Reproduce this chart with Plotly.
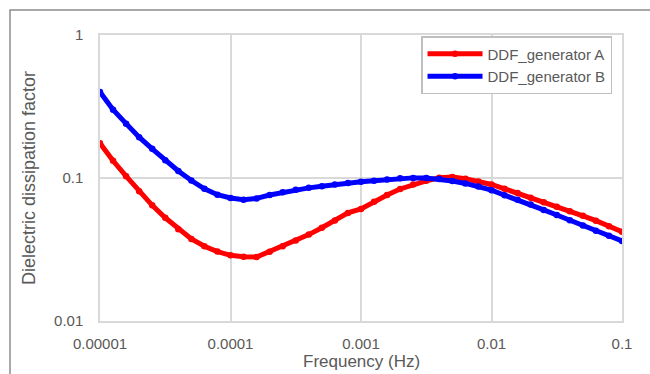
import plotly.graph_objects as go

# Frequencies (Hz), log-spaced every 0.1 decade from 1e-5 to 1e-1
log_freq = [-5.0, -4.9, -4.8, -4.7, -4.6, -4.5, -4.4, -4.3, -4.2, -4.1,
            -4.0, -3.9, -3.8, -3.7, -3.6, -3.5, -3.4, -3.3, -3.2, -3.1,
            -3.0, -2.9, -2.8, -2.7, -2.6, -2.5, -2.4, -2.3, -2.2, -2.1,
            -2.0, -1.9, -1.8, -1.7, -1.6, -1.5, -1.4, -1.3, -1.2, -1.1, -1.0]
frequency = [10 ** v for v in log_freq]

ddf_a = [0.175, 0.132, 0.103, 0.0807, 0.0644, 0.0527, 0.0439, 0.0375, 0.0333, 0.0306,
         0.0288, 0.0281, 0.0280, 0.0305, 0.0333, 0.0365, 0.0402, 0.0449, 0.0505, 0.0570,
         0.0607, 0.0682, 0.0760, 0.0838, 0.0899, 0.0955, 0.1003, 0.1016, 0.0987, 0.0946,
         0.0901, 0.0840, 0.0784, 0.0729, 0.0678, 0.0630, 0.0586, 0.0544, 0.0503, 0.0460, 0.0421]

ddf_b = [0.400, 0.300, 0.240, 0.193, 0.160, 0.133, 0.112, 0.096, 0.084, 0.0764,
         0.0725, 0.0705, 0.0720, 0.0760, 0.0794, 0.0826, 0.0853, 0.0877, 0.0902, 0.0923,
         0.0940, 0.0957, 0.0977, 0.0995, 0.1002, 0.0998, 0.0984, 0.0953, 0.0916, 0.0873,
         0.0822, 0.0758, 0.0705, 0.0652, 0.0598, 0.0551, 0.0507, 0.0466, 0.0428, 0.0394, 0.0363]

x_tickvals = [1e-5, 1e-4, 1e-3, 1e-2, 1e-1]
x_ticktext = ["0.00001", "0.0001", "0.001", "0.01", "0.1"]
y_tickvals = [0.01, 0.1, 1]
y_ticktext = ["0.01", "0.1", "1"]

FONT = "Liberation Sans, Arial, sans-serif"
TXT = "#595959"
GRID = "#d9d9d9"

fig = go.Figure()
fig.add_trace(go.Scatter(x=frequency, y=ddf_a, mode="lines+markers", name="DDF_generator A",
                         legendgroup="a",
                         line=dict(color="#ff0000", width=5),
                         marker=dict(color="#ff0000", size=6.5)))
fig.add_trace(go.Scatter(x=frequency, y=ddf_b, mode="lines+markers", name="DDF_generator B",
                         legendgroup="b",
                         line=dict(color="#0000ff", width=5),
                         marker=dict(color="#0000ff", size=6.5)))

fig.update_layout(
    width=650, height=374,
    margin=dict(l=100, r=28, t=35, b=53),
    paper_bgcolor="white", plot_bgcolor="white",
    font=dict(family=FONT, color=TXT, size=13),
    showlegend=True,
    legend=dict(x=0.615, y=0.9965, xanchor="left", yanchor="top",
                bgcolor="white", bordercolor="#bfbfbf", borderwidth=1.5,
                font=dict(family=FONT, size=15, color=TXT),
                itemwidth=55, tracegroupgap=8, traceorder="normal"),
    xaxis=dict(type="log", range=[-5, -1], tickvals=x_tickvals, ticktext=x_ticktext,
               showgrid=True, gridcolor=GRID, gridwidth=1.5,
               showline=True, linecolor=GRID, linewidth=1.5, mirror=True,
               zeroline=False, ticks="", ticklabelstandoff=8,
               tickfont=dict(family=FONT, size=15, color=TXT)),
    yaxis=dict(type="log", range=[-2, 0], tickvals=y_tickvals, ticktext=y_ticktext,
               showgrid=True, gridcolor=GRID, gridwidth=1.5,
               showline=True, linecolor=GRID, linewidth=1.5, mirror=True,
               zeroline=False, ticks="", ticklabelstandoff=12,
               tickfont=dict(family=FONT, size=15, color=TXT)),
    annotations=[
        dict(text="Frequency (Hz)", xref="paper", yref="paper", x=0.5, y=-0.143,
             xanchor="center", yanchor="middle", showarrow=False,
             font=dict(family=FONT, size=17, color=TXT)),
        dict(text="Dielectric dissipation factor", xref="paper", yref="paper",
             x=-0.136, y=0.5, xanchor="center", yanchor="middle", textangle=-90,
             showarrow=False, font=dict(family=FONT, size=18, color=TXT)),
    ],
    shapes=[
        dict(type="rect", xref="paper", yref="paper", x0=-0.1724, x1=1.07,
             y0=-0.22, y1=1.0874, line=dict(color="#8c8c8c", width=1.5),
             fillcolor="rgba(0,0,0,0)", layer="below"),
    ],
)

fig.write_html("out.html")
